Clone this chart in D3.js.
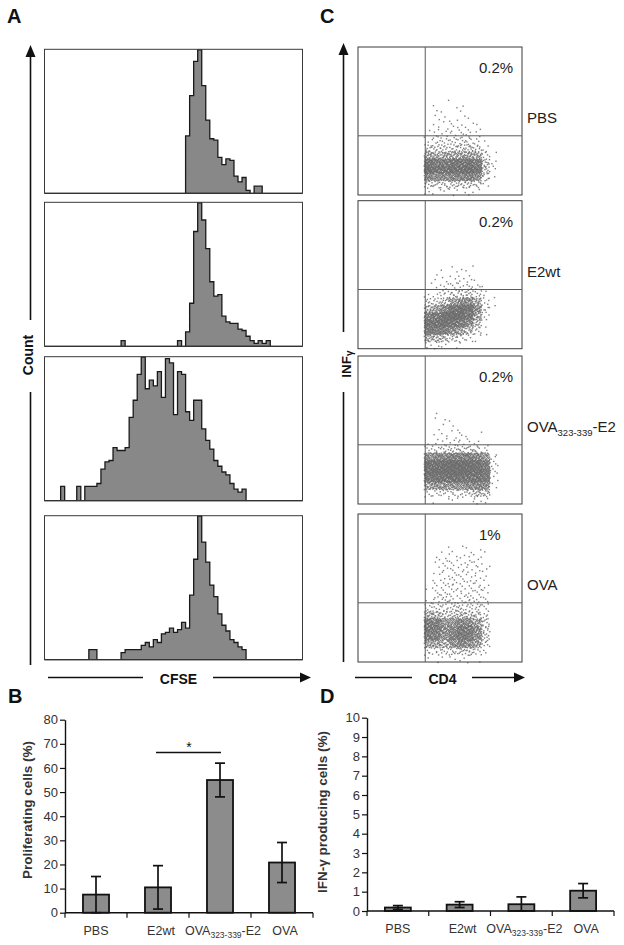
<!DOCTYPE html>
<html><head><meta charset="utf-8">
<script src="https://cdn.jsdelivr.net/npm/d3@7"></script>
<style>body{margin:0;background:#fff} svg{display:block} text{font-family:"Liberation Sans",Arial,sans-serif}</style>
</head><body><svg id="c" width="624" height="945"></svg>
<script>
// ================= DATA =================
const groups = ["PBS", "E2wt", "OVA323-339-E2", "OVA"];

// Panel A: CFSE histograms, 64 channel bins, [bin, relative count %]
const cfsePBS = [[35,40],[36,68],[37,92],[38,100],[39,75],[40,51],[41,38],[42,37],[43,25],[44,20],[45,24],[46,23],[47,12],[48,8],[49,11],[50,2],[52,5],[53,5]];
const cfseE2wt = [[19,4],[33,4],[35,10],[36,30],[37,80],[38,100],[39,88],[40,68],[41,45],[42,35],[43,36],[44,21],[45,17],[46,16],[47,16],[48,12],[49,11],[50,7],[51,4],[52,2],[53,4],[54,2],[55,4]];
const cfseOVApep = [[4,10],[8,10],[10,10],[11,10],[12,10],[13,12],[14,22],[15,27],[16,28],[17,37],[18,35],[19,35],[20,37],[21,58],[22,70],[23,88],[24,100],[25,78],[26,84],[27,80],[28,90],[29,72],[30,99],[31,96],[32,60],[33,90],[34,88],[35,62],[36,56],[37,70],[38,70],[39,50],[40,42],[41,36],[42,28],[43,24],[44,20],[45,18],[46,12],[47,8],[48,6],[49,8]];
const cfseOVA = [[11,7],[12,7],[19,5],[20,7],[21,7],[22,7],[23,7],[24,10],[25,12],[26,9],[27,14],[28,12],[29,18],[30,19],[31,22],[32,19],[33,21],[34,26],[35,22],[36,45],[37,70],[38,100],[39,82],[40,68],[41,52],[42,44],[43,32],[44,24],[45,20],[46,14],[47,12],[48,9],[49,7]];

// Panel C: CD4 x IFNg dot-plot densities (events per 5x5 cell); columns CD4 40..85, rows listed top (high IFNg) to bottom (0)
const cd4Bins = [40,45,50,55,60,65,70,75,80];
const dotPBS = [
 [0,1,1,0,1,0,0,0,0],
 [0,1,1,1,1,0,0,0,0],
 [0,2,1,1,2,1,0,0,0],
 [0,2,2,2,2,2,1,0,0],
 [1,3,3,3,3,3,2,0,0],
 [3,5,5,5,6,6,4,1,0],
 [8,8,8,9,10,10,8,2,0],
 [25,20,22,24,25,26,22,6,1],
 [60,50,50,55,55,60,50,12,2],
 [70,60,60,65,65,70,60,14,2],
 [40,35,35,40,40,45,35,8,1],
 [10,8,8,10,10,10,8,2,0],
 [2,2,2,2,2,2,1,0,0]];
const dotE2wt = [
 [0,0,0,0,0,0,0,0,0],
 [0,0,0,1,0,1,0,0,0],
 [0,1,1,1,1,1,0,0,0],
 [0,1,2,2,3,3,1,0,0],
 [1,2,3,4,4,5,3,1,0],
 [2,3,5,8,10,10,6,2,0],
 [6,8,14,25,35,35,20,4,1],
 [20,25,40,60,65,60,35,6,1],
 [45,55,65,70,70,55,25,4,0],
 [60,65,65,60,50,35,14,2,0],
 [50,50,45,35,25,15,6,1,0],
 [20,18,14,10,6,4,2,0,0],
 [3,3,2,1,1,0,0,0,0]];
const dotOVApep = [
 [0,1,0,0,0,0,0,0,0],
 [0,1,1,1,0,0,0,0,0],
 [0,1,1,1,1,0,0,0,0],
 [0,1,2,2,2,1,1,0,0],
 [1,2,3,3,3,2,2,0,0],
 [4,6,6,7,8,8,7,4,0],
 [35,40,40,45,45,45,40,30,3],
 [65,65,70,70,70,70,65,50,4],
 [65,70,70,70,70,70,65,55,4],
 [55,60,60,65,60,60,60,50,3],
 [25,30,30,30,30,35,40,35,2],
 [4,5,5,6,6,8,15,12,0],
 [0,1,1,1,1,1,3,2,0]];
const dotOVA = [
 [0,0,1,1,1,1,1,0,0],
 [0,1,2,2,2,2,2,1,0],
 [0,2,3,3,3,3,3,2,0],
 [0,2,3,3,3,3,3,2,0],
 [0,2,3,4,3,3,3,2,0],
 [0,3,4,4,4,4,3,2,0],
 [1,3,4,4,4,4,4,2,0],
 [2,4,5,5,5,5,4,3,0],
 [5,6,6,7,7,7,6,4,0],
 [20,18,12,12,14,14,10,5,0],
 [50,45,30,30,40,35,25,8,0],
 [55,50,35,40,55,50,35,10,0],
 [50,45,30,45,55,50,35,10,0],
 [25,25,20,30,40,35,25,6,0],
 [5,6,6,8,10,10,6,2,0],
 [1,1,1,2,2,2,1,0,0]];
const quadPercent = ["0.2%", "0.2%", "0.2%", "1%"];

// Panel B: proliferating cells (%)
const prolifMean = [7.5, 10.5, 55, 20.8];
const prolifErr  = [7.5, 9, 7, 8.3];
const prolifTicks = [0,10,20,30,40,50,60,70,80];
const prolifSig = {from:"E2wt", to:"OVA323-339-E2", y:66.4, label:"*"};

// Panel D: IFN-gamma producing cells (%)
const ifnMean = [0.18, 0.33, 0.35, 1.05];
const ifnErr  = [0.1, 0.15, 0.38, 0.37];
const ifnTicks = [0,1,2,3,4,5,6,7,8,9,10];

// ================= DRAW =================
const svg = d3.select("#c");
const FONT = '"Liberation Sans",Arial,sans-serif';

function halton(i, b){ let f=1, r=0; while(i>0){ f/=b; r+=f*(i%b); i=Math.floor(i/b);} return r; }
function arrowUp(x, yTip, yEnd, gapFrom, gapTo){
  svg.append("line").attr("x1",x).attr("x2",x).attr("y1",yTip+10).attr("y2",gapFrom).attr("stroke","#111").attr("stroke-width",1.6);
  svg.append("line").attr("x1",x).attr("x2",x).attr("y1",gapTo).attr("y2",yEnd).attr("stroke","#111").attr("stroke-width",1.6);
  svg.append("path").attr("d",`M${x},${yTip}L${x-5},${yTip+12}L${x+5},${yTip+12}Z`).attr("fill","#111");
}
function arrowRight(y, x0, x1, x2, xTip){
  svg.append("line").attr("x1",x0).attr("x2",x1).attr("y1",y).attr("y2",y).attr("stroke","#111").attr("stroke-width",1.6);
  svg.append("line").attr("x1",x2).attr("x2",xTip-8).attr("y1",y).attr("y2",y).attr("stroke","#111").attr("stroke-width",1.6);
  svg.append("path").attr("d",`M${xTip},${y}L${xTip-11},${y-5}L${xTip-11},${y+5}Z`).attr("fill","#111");
}
function panelLabel(t,x,y){ svg.append("text").attr("x",x).attr("y",y).attr("font-size",20).attr("font-weight","bold").attr("fill","#111").text(t); }

panelLabel("A",7,23); panelLabel("B",8,703); panelLabel("C",320,23); panelLabel("D",320,703);

// ---- Panel A ----
const hists = [cfsePBS, cfseE2wt, cfseOVApep, cfseOVA];
const histTops = [49.3, 202.3, 356.7, 515.7];
const histH = 144;
const hx = d3.scaleLinear().domain([0,64]).range([44.5,302.5]);
hists.forEach((h,k)=>{
  const top = histTops[k];
  const hy = d3.scaleLinear().domain([0,100]).range([top+histH, top+0.5]);
  const dense = new Array(64).fill(0); h.forEach(([b,v])=>dense[b]=v);
  const pts = dense.map((v,i)=>[i,v]); pts.push([64,0]);
  const area = d3.area().x(d=>hx(d[0])).y0(hy(0)).y1(d=>hy(d[1])).curve(d3.curveStepAfter);
  svg.append("path").attr("d",area(pts)).attr("fill","#888").attr("stroke","#1a1a1a").attr("stroke-width",1.3);
  svg.append("rect").attr("x",hx(0)).attr("y",top).attr("width",hx(64)-hx(0)).attr("height",histH)
    .attr("fill","none").attr("stroke","#3a3a3a").attr("stroke-width",1);
});
arrowUp(30.5, 45, 665, 320, 392);
svg.append("text").attr("transform","translate(33,355) rotate(-90)").attr("text-anchor","middle")
  .attr("font-size",14).attr("font-weight","bold").attr("fill","#111").text("Count");
arrowRight(677.5, 48, 143, 213, 311);
svg.append("text").attr("x",178.5).attr("y",684).attr("text-anchor","middle").attr("font-size",14).attr("font-weight","bold").attr("fill","#111").text("CFSE");

// ---- Panel C ----
const dots = [dotPBS, dotE2wt, dotOVApep, dotOVA];
const scTops = [47, 200.7, 356, 514];
const scH = 148;
const sx = d3.scaleLinear().domain([0,100]).range([358,522]);
const cell = 5;
dots.forEach((grid,k)=>{
  const top = scTops[k];
  const sy = d3.scaleLinear().domain([0,100]).range([top+scH, top]);
  const n = grid.length, pts = [];
  grid.forEach((row,r)=>{
    const y0 = (n-1-r)*cell;
    row.forEach((c,ci)=>{
      const x0 = cd4Bins[ci];
      const seed = 1 + ((k*97 + r*31 + ci*17) % 211)*7;
      for(let j=0;j<c;j++) pts.push([x0 + halton(seed+j,2)*cell, y0 + halton(seed+j,3)*cell]);
    });
  });
  svg.append("g").selectAll("rect").data(pts).join("rect")
    .attr("x",d=>sx(d[0])).attr("y",d=>sy(d[1])).attr("width",1.4).attr("height",1.4)
    .attr("fill","#6a6a6a").attr("opacity",0.85);
  svg.append("rect").attr("x",sx(0)).attr("y",top).attr("width",sx(100)-sx(0)).attr("height",scH)
    .attr("fill","none").attr("stroke","#3a3a3a").attr("stroke-width",1);
  svg.append("line").attr("x1",sx(41)).attr("x2",sx(41)).attr("y1",top).attr("y2",top+scH).attr("stroke","#5a5a5a").attr("stroke-width",1);
  svg.append("line").attr("x1",sx(0)).attr("x2",sx(100)).attr("y1",sy(40)).attr("y2",sy(40)).attr("stroke","#5a5a5a").attr("stroke-width",1);
  svg.append("text").attr("x",479).attr("y",top+26).attr("font-size",15).attr("fill","#222").text(quadPercent[k]);
  const lab = svg.append("text").attr("x",527).attr("y",top+76).attr("font-size",15).attr("fill","#222");
  if(groups[k]==="OVA323-339-E2"){
    lab.append("tspan").text("OVA");
    lab.append("tspan").attr("font-size",9.5).attr("dy",4).text("323-339");
    lab.append("tspan").attr("dy",-4).text("-E2");
  } else lab.text(groups[k]);
});
arrowUp(343.5, 43, 662, 332, 392);
const infl = svg.append("text").attr("transform","translate(351,364) rotate(-90)").attr("text-anchor","middle")
  .attr("font-size",13.5).attr("font-weight","bold").attr("fill","#111");
infl.append("tspan").text("INF");
infl.append("tspan").attr("font-size",10).attr("dy",2).text("γ");
arrowRight(677.5, 355, 412, 472, 525);
svg.append("text").attr("x",442.5).attr("y",683.5).attr("text-anchor","middle").attr("font-size",14).attr("font-weight","bold").attr("fill","#111").text("CD4");

// ---- Bar charts ----
function barChart(opt){
  const {x0,x1,yBottom,yTop,max,ticks,mean,err,title,titleX,titleY,sig} = opt;
  const x = d3.scaleBand().domain(groups).range([x0,x1]).paddingInner(0.58).paddingOuter(0.29);
  const y = d3.scaleLinear().domain([0,max]).range([yBottom,yTop]);
  const g = svg.append("g");
  g.selectAll("rect.bar").data(groups).join("rect").attr("class","bar")
    .attr("x",d=>x(d)).attr("width",x.bandwidth())
    .attr("y",(d,i)=>y(mean[i])).attr("height",(d,i)=>y(0)-y(mean[i]))
    .attr("fill","#8c8c8c").attr("stroke","#111").attr("stroke-width",1.8);
  groups.forEach((d,i)=>{
    const cx = x(d)+x.bandwidth()/2, lo = Math.max(0,mean[i]-err[i]), hi = mean[i]+err[i];
    g.append("line").attr("x1",cx).attr("x2",cx).attr("y1",y(lo)).attr("y2",y(hi)).attr("stroke","#111").attr("stroke-width",1.7);
    [lo,hi].forEach(v=>g.append("line").attr("x1",cx-5).attr("x2",cx+5).attr("y1",y(v)).attr("y2",y(v)).attr("stroke","#111").attr("stroke-width",1.7));
  });
  const ax = g.append("g").attr("transform",`translate(${x0},0)`)
    .call(d3.axisLeft(y).tickValues(ticks).tickSize(5).tickSizeOuter(0).tickFormat(d3.format("d")));
  ax.select(".domain").attr("stroke","#111").attr("stroke-width",1.4);
  ax.selectAll(".tick line").attr("stroke","#111").attr("stroke-width",1.2);
  ax.selectAll(".tick text").attr("font-family",FONT).attr("font-size",13).attr("fill","#333").attr("x",-7);
  g.append("line").attr("x1",x0).attr("x2",x1).attr("y1",y(0)).attr("y2",y(0)).attr("stroke","#111").attr("stroke-width",1.6);
  d3.range(groups.length+1).forEach(i=>{
    const tx = x0 + i*x.step();
    g.append("line").attr("x1",tx).attr("x2",tx).attr("y1",y(0)).attr("y2",y(0)+5).attr("stroke","#111").attr("stroke-width",1.2);
  });
  groups.forEach(d=>{
    const t = g.append("text").attr("x",x(d)+x.bandwidth()/2 + (d==="PBS"?0:3)).attr("y",y(0)+22).attr("text-anchor","middle").attr("font-size",12.5).attr("fill","#333");
    if(d==="OVA323-339-E2"){
      t.append("tspan").text("OVA");
      t.append("tspan").attr("font-size",8.5).attr("dy",3).text("323-339");
      t.append("tspan").attr("dy",-3).text("-E2");
    } else t.text(d);
  });
  svg.append("text").attr("transform",`translate(${titleX},${titleY}) rotate(-90)`).attr("text-anchor","middle")
    .attr("font-size",13.5).attr("font-weight","bold").attr("fill","#333").text(title);
  if(sig){
    const a = x(sig.from)+x.bandwidth()/2, b = x(sig.to)+x.bandwidth()/2;
    g.append("line").attr("x1",a-2).attr("x2",b+1).attr("y1",y(sig.y)).attr("y2",y(sig.y)).attr("stroke","#111").attr("stroke-width",1.3);
    g.append("text").attr("x",(a+b)/2).attr("y",y(sig.y)-1).attr("text-anchor","middle").attr("font-size",14).attr("fill","#111").text(sig.label);
  }
}
barChart({x0:65,x1:313,yBottom:912.7,yTop:719.7,max:80,ticks:prolifTicks,mean:prolifMean,err:prolifErr,
  title:"Proliferating cells (%)",titleX:32,titleY:810,sig:prolifSig});
barChart({x0:367,x1:614,yBottom:911,yTop:717.7,max:10,ticks:ifnTicks,mean:ifnMean,err:ifnErr,
  title:"IFN-γ producing cells (%)",titleX:327,titleY:812});
</script></body></html>
